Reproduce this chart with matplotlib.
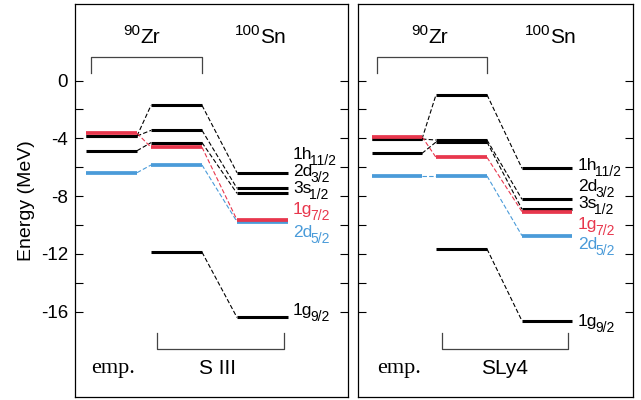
import matplotlib
matplotlib.use("Agg")
import matplotlib.pyplot as plt

plt.rcParams['font.family'] = ['Liberation Sans', 'DejaVu Sans']

# level order: 1h11/2, 2d3/2, 3s1/2, 1g7/2, 2d5/2, 1g9/2
state_main = ['1h', '2d', '3s', '1g', '2d', '1g']
state_sub = ['11/2', '3/2', '1/2', '7/2', '5/2', '9/2']
state_colors = ['black', 'black', 'black', '#e8374d', '#4a9bd9', 'black']

# energies in MeV (emp. has no 1g9/2 level)
emp_left = [-3.84, -3.84, -4.86, -3.65, -6.38, None]
siii_zr = [-1.72, -3.45, -4.30, -4.62, -5.85, -11.88]
siii_sn = [-6.38, -7.46, -7.81, -9.65, -9.77, -16.40]

emp_right = [-4.05, -4.05, -5.04, -3.89, -6.61, None]
sly4_zr = [-0.99, -4.12, -4.26, -5.32, -6.61, -11.66]
sly4_sn = [-6.08, -8.22, -8.91, -9.08, -10.74, -16.64]

yticks = [0, -2, -4, -6, -8, -10, -12, -14, -16]
ytick_labels = ['0', '', '-4', '', '-8', '', '-12', '', '-16']

E0 = 80.5     # pixel row of E = 0
PX = 14.45    # pixels per MeV
H = 400


def e_of(py):
    return -(py - E0) / PX


def sub_text(ax, x, y, main, sub, color, fs=12.5, sfs=10, dy=-4.5):
    t = ax.text(x, y, main, color=color, fontsize=fs, ha='left', va='baseline')
    ax.annotate(sub, xy=(1, 0), xycoords=t, xytext=(-1.5, dy), textcoords='offset points',
                color=color, fontsize=sfs, ha='left', va='bottom')


def sup_text(ax, x, y, sup, main, fs=15, sfs=11):
    ax.text(x, y, main, fontsize=fs, ha='left', va='baseline')
    ax.annotate(sup, xy=(x, y), xytext=(0.5, 6), textcoords='offset points',
                fontsize=sfs, ha='right', va='baseline')


fig = plt.figure(figsize=(6.41, 4.0), dpi=100)
ax1 = fig.add_axes([75 / 641, 3 / H, 273 / 641, 393 / H])
ax2 = fig.add_axes([358 / 641, 3 / H, 275 / 641, 393 / H])

panels = [
    (ax1, 273, emp_left, siii_zr, siii_sn, 'S III', [(11, 62), (76, 127), (162, 213)],
     [159, 176, 193, 214, 237, 315], 218, (65, 185), -3),
    (ax2, 275, emp_right, sly4_zr, sly4_sn, 'SLy4', [(14, 64), (78, 129), (164, 214)],
     [170, 191, 208, 229, 249, 326], 220, (70, 192), 0),
]

for ax, xmax, emp, zr, sn, name, cols, lab_py, lab_x, nuc_x, name_dx in panels:
    ax.set_xlim(0, xmax)
    ax.set_ylim(e_of(397), e_of(4))
    order = [0, 1, 2, 5, 4, 3]  # red on top
    for i in order:
        c = state_colors[i]
        lw = 2.7 if c != 'black' else 2.2
        if emp[i] is not None:
            ax.plot(cols[0], [emp[i], emp[i]], color=c, lw=lw, solid_capstyle='butt', zorder=3)
            ax.plot([cols[0][1], cols[1][0]], [emp[i], zr[i]], color=c, lw=0.8,
                    dashes=(4, 2), zorder=2)
        ax.plot(cols[1], [zr[i], zr[i]], color=c, lw=lw, solid_capstyle='butt', zorder=3)
        ax.plot([cols[1][1], cols[2][0]], [zr[i], sn[i]], color=c, lw=0.8,
                dashes=(4, 2), zorder=2)
        ax.plot(cols[2], [sn[i], sn[i]], color=c, lw=lw, solid_capstyle='butt', zorder=3)
        sub_text(ax, lab_x, e_of(lab_py[i]), state_main[i], state_sub[i], c)

    # nucleus names
    sup_text(ax, nuc_x[0], e_of(43), '90', 'Zr')
    sup_text(ax, nuc_x[1], e_of(43), '100', 'Sn')

    # brackets
    bc = '#444444'
    x0, x1 = cols[0][0] + 5, cols[1][1]
    ax.plot([x0, x0, x1, x1], [e_of(73), e_of(57), e_of(57), e_of(73)], color=bc, lw=0.9)
    x0, x1 = cols[1][0] + 6, cols[2][1] - 4
    ax.plot([x0, x0, x1, x1], [e_of(333), e_of(349), e_of(349), e_of(333)], color=bc, lw=0.9)

    ax.text((cols[0][0] + cols[0][1]) / 2 + 2, e_of(368), 'emp.', fontsize=16,
            family='Liberation Serif', ha='center', va='center')
    ax.text((x0 + x1) / 2 + name_dx, e_of(368), name, fontsize=15, ha='center', va='center')

    ax.set_xticks([])
    ax.set_yticks(yticks)
    ax.tick_params(axis='y', direction='in', length=6, width=0.8, left=True, right=True,
                   labelsize=13.5, pad=5)
    for s in ax.spines.values():
        s.set_linewidth(0.9)

ax1.set_yticklabels(ytick_labels)
ax1.set_ylabel('Energy (MeV)', fontsize=14, labelpad=4)
ax2.set_yticklabels([])

fig.savefig('out.png', dpi=100)
